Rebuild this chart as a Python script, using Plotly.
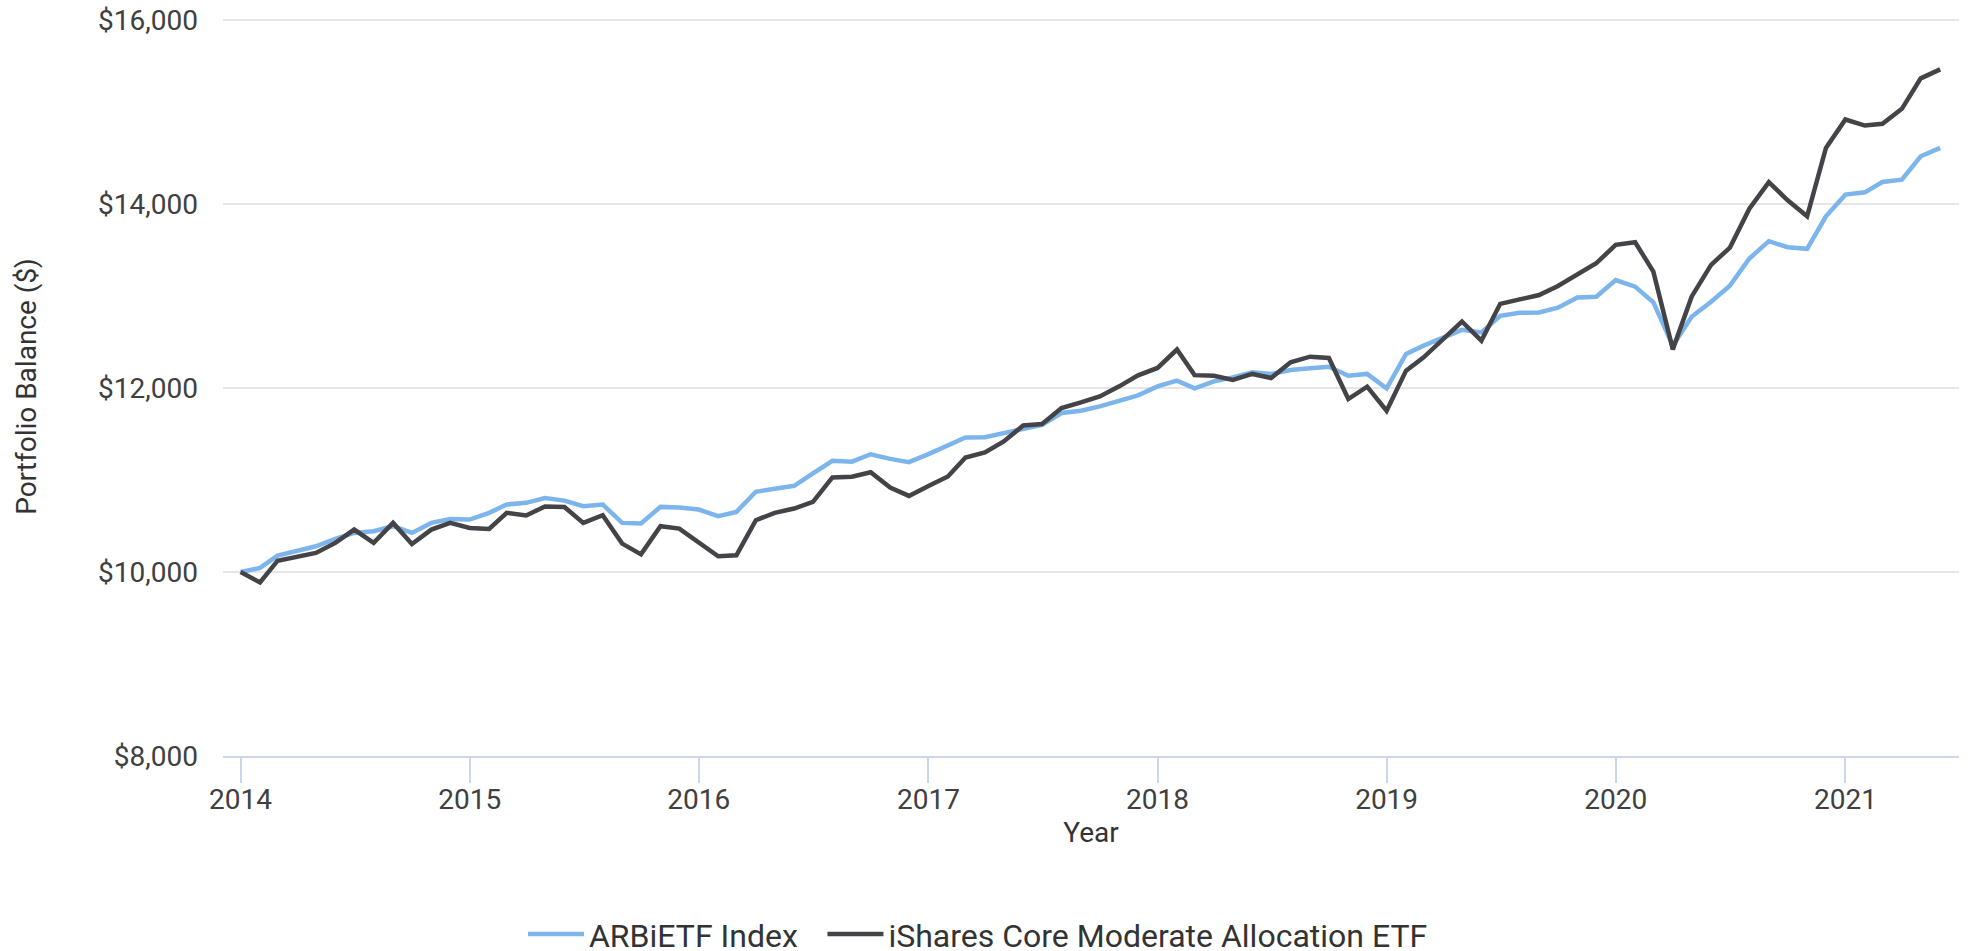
import pandas as pd
import plotly.graph_objects as go

dates = pd.date_range("2014-01-01", periods=90, freq="MS")

arbietf_index = [
    10000, 10044, 10178, 10225, 10280, 10360, 10425, 10443, 10498, 10425, 10534, 10577,
    10570, 10643, 10734, 10752, 10803, 10776, 10715, 10734, 10534, 10527, 10708, 10701,
    10679, 10607, 10654, 10872, 10908, 10937, 11071, 11209, 11199, 11280, 11230, 11194,
    11281, 11383, 11462, 11466, 11510, 11564, 11600, 11728, 11753, 11800, 11862, 11920,
    12018, 12080, 11996, 12073, 12116, 12171, 12153, 12196, 12214, 12232, 12134, 12153,
    11996, 12370, 12461, 12552, 12632, 12605, 12785, 12817, 12822, 12873, 12985, 12993,
    13174, 13102, 12931, 12460, 12774, 12938, 13113, 13408, 13596, 13530, 13513, 13866,
    14102, 14127, 14240, 14265, 14519, 14610,
]

ishares_moderate = [
    10000, 9887, 10123, 10160, 10207, 10316, 10461, 10316, 10534, 10305, 10461, 10534,
    10479, 10468, 10643, 10614, 10712, 10707, 10534, 10617, 10309, 10192, 10498, 10472,
    10327, 10171, 10182, 10563, 10643, 10690, 10763, 11028, 11035, 11085, 10918, 10827,
    10936, 11038, 11245, 11299, 11419, 11593, 11608, 11782, 11844, 11909, 12018, 12138,
    12218, 12418, 12140, 12134, 12087, 12153, 12109, 12280, 12341, 12327, 11880, 12015,
    11753, 12189, 12334, 12534, 12723, 12515, 12915, 12963, 13011, 13109, 13229, 13356,
    13556, 13585, 13265, 12420, 12993, 13338, 13527, 13949, 14238, 14040, 13866, 14610,
    14919, 14853, 14872, 15035, 15366, 15464,
]

series_names = ["ARBiETF Index", "iShares Core Moderate Allocation ETF"]
series_colors = ["#7cb5ec", "#434348"]
y_ticks = [8000, 10000, 12000, 14000, 16000]
y_tick_labels = ["$8,000", "$10,000", "$12,000", "$14,000", "$16,000"]

fig = go.Figure()
for i, (name, vals, col) in enumerate(zip(series_names, [arbietf_index, ishares_moderate], series_colors)):
    fig.add_trace(go.Scatter(
        x=dates, y=vals, mode="lines", name=name,
        line=dict(color=col, width=4.5),
        legend="legend" if i == 0 else "legend2",
    ))

FONT = "Roboto, 'Open Sans', sans-serif"
legend_common = dict(
    orientation="h", xanchor="left", y=-0.2412, yanchor="middle",
    font=dict(family=FONT, size=32, color="#333333"),
    itemwidth=56, bgcolor="rgba(0,0,0,0)",
)
fig.update_layout(
    width=1971, height=962,
    margin=dict(l=223, r=12, t=17, b=206, autoexpand=False),
    paper_bgcolor="white", plot_bgcolor="white",
    font=dict(family=FONT, color="#333333", size=28),
    showlegend=True,
    legend=dict(x=0.1728, **legend_common),
    legend2=dict(x=0.3453, **legend_common),
    xaxis=dict(
        type="date",
        range=["2013-12-04", "2021-07-01"],
        tick0="2014-01-01", dtick="M12", tickformat="%Y",
        ticks="outside", ticklen=25, tickwidth=2, tickcolor="#ccd6eb",
        showline=True, linecolor="#ccd6eb", linewidth=2,
        showgrid=False, zeroline=False, automargin=False,
        ticklabelstandoff=-8,
        tickfont=dict(family=FONT, size=28, color="#404040"),
        title=dict(text="Year", font=dict(family=FONT, size=28, color="#333333"), standoff=8),
    ),
    yaxis=dict(
        range=[8000, 16033],
        tickmode="array", tickvals=y_ticks, ticktext=y_tick_labels,
        showgrid=True, gridcolor="#e6e6e6", gridwidth=2,
        showline=False, zeroline=False, ticks="", automargin=False,
        ticklabelstandoff=24, ticklabeloverflow="allow",
        tickfont=dict(family=FONT, size=28, color="#404040"),
        title=dict(text="Portfolio Balance ($)", font=dict(family=FONT, size=28, color="#333333"), standoff=53),
    ),
)

fig.write_html(
    "out.html",
    config={"displayModeBar": False},
    post_script="document.body.style.margin='0';document.body.style.overflow='hidden';",
)
